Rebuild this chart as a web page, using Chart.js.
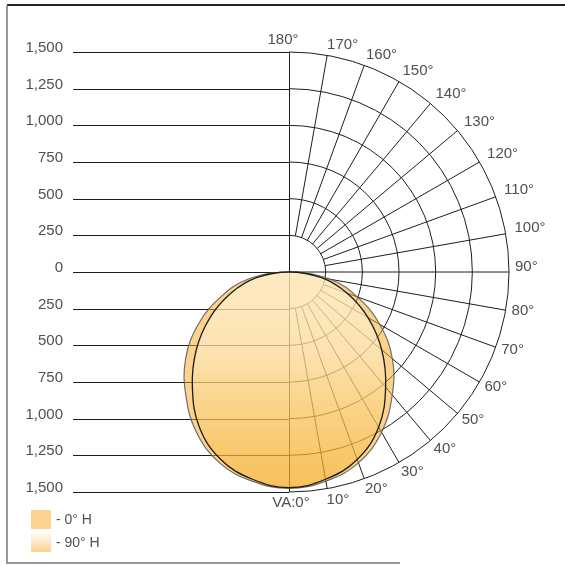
<!DOCTYPE html>
<html>
<head>
<meta charset="utf-8">
<script src="https://cdn.jsdelivr.net/npm/chart.js@4.4.1/dist/chart.umd.min.js"></script>
<style>
    html, body { margin: 0; padding: 0; background: #fff; }
    #wrap { width: 565px; height: 565px; position: relative; }
</style>
</head>
<body>
<div id="wrap"><canvas id="polarChart"></canvas></div>
<script>
// Vertical angles (0 = down, 180 = up), in degrees
const ANGLES = [0, 10, 20, 30, 40, 50, 60, 70, 80, 90, 100, 110, 120, 130, 140, 150, 160, 170, 180];
// Luminous intensity (cd)
const INTENSITY_0H = [1475, 1448, 1385, 1262, 1095, 920, 715, 495, 285, 0, 0, 0, 0, 0, 0, 0, 0, 0, 0];
const INTENSITY_90H = [1470, 1435, 1360, 1222, 1025, 825, 622, 420, 225, 0, 0, 0, 0, 0, 0, 0, 0, 0, 0];
const RINGS = [250, 500, 750, 1000, 1250, 1500];
const SERIES_LABELS = ["- 0° H", "- 90° H"];
const R_MAX = 1500;

const FONT = "'Liberation Sans', Arial, sans-serif";
const TEXT_COLOR = "#505050";

// polar (angle, intensity) -> x/y values; right half down to 0°, then the
// mirrored left half back up to the origin (the path is closed as a loop)
function toPoints(values) {
    const right = [];
    const left = [];
    ANGLES.forEach((a, i) => {
        const v = values[i];
        if (v <= 0) return;
        const t = a * Math.PI / 180;
        right.unshift({ x: v * Math.sin(t), y: -v * Math.cos(t) });
        if (a > 0) left.push({ x: -v * Math.sin(t), y: -v * Math.cos(t) });
    });
    return [{ x: 0, y: 0 }, ...right, ...left];
}

function innerGradient(chart) {
    const { ctx, scales, chartArea } = chart;
    if (!chartArea || !scales.y) return "rgba(255, 230, 180, 0.5)";
    const y0 = scales.y.getPixelForValue(0);
    const y1 = scales.y.getPixelForValue(-R_MAX);
    if (!isFinite(y0) || !isFinite(y1)) return "rgba(255, 230, 180, 0.5)";
    const g = ctx.createLinearGradient(0, y0, 0, y1);
    g.addColorStop(0, "rgba(255, 250, 228, 0.6)");
    g.addColorStop(0.35, "rgba(255, 243, 214, 0.5)");
    g.addColorStop(1, "rgba(243, 165, 10, 0.42)");
    return g;
}

// treat every curve as a closed loop so the spline is smooth all round
const closedCurves = {
    id: "closedCurves",
    afterDatasetUpdate(chart, args) {
        const line = args.meta.dataset;
        if (!line) return;
        line._loop = true;
        line._fullLoop = true;
        line._pointsUpdated = false;
    }
};

// grid of the half polar diagram + horizontal value lines on the left
const polarGrid = {
    id: "polarGrid",
    beforeDatasetsDraw(chart) {
        const { ctx, chartArea, scales } = chart;
        const cx = scales.x.getPixelForValue(0);
        const cy = scales.y.getPixelForValue(0);
        const px = v => scales.x.getPixelForValue(v) - cx;
        ctx.save();
        ctx.strokeStyle = "#1e1e1e";
        ctx.lineWidth = 1;

        // left-hand value lines
        scales.y.ticks.forEach(t => {
            const y = Math.round(scales.y.getPixelForValue(t.value)) + 0.5;
            ctx.beginPath();
            ctx.moveTo(chartArea.left + 4, y);
            ctx.lineTo(cx, y);
            ctx.stroke();
        });

        // rings
        RINGS.forEach(r => {
            ctx.beginPath();
            ctx.arc(cx, cy, px(r), -Math.PI / 2, Math.PI / 2);
            ctx.stroke();
        });

        // radial lines
        const r0 = px(RINGS[0]);
        const r1 = px(R_MAX);
        ANGLES.forEach(a => {
            if (a === 0 || a === 180) return;
            const t = a * Math.PI / 180;
            const start = a === 90 ? 0 : r0;
            ctx.beginPath();
            ctx.moveTo(cx + start * Math.sin(t), cy + start * Math.cos(t));
            ctx.lineTo(cx + r1 * Math.sin(t), cy + r1 * Math.cos(t));
            ctx.stroke();
        });

        // vertical axis
        ctx.beginPath();
        ctx.moveTo(Math.round(cx) + 0.5, scales.y.getPixelForValue(R_MAX));
        ctx.lineTo(Math.round(cx) + 0.5, scales.y.getPixelForValue(-R_MAX));
        ctx.stroke();
        ctx.restore();
    },
    afterDraw(chart) {
        const { ctx, scales } = chart;
        const cx = scales.x.getPixelForValue(0);
        const cy = scales.y.getPixelForValue(0);
        const r1 = scales.x.getPixelForValue(R_MAX) - cx;
        ctx.save();
        ctx.fillStyle = TEXT_COLOR;
        ctx.font = "15px " + FONT;
        ctx.textBaseline = "middle";
        ANGLES.forEach(a => {
            const t = a * Math.PI / 180;
            const ex = cx + r1 * Math.sin(t);
            const ey = cy + r1 * Math.cos(t);
            if (a === 0) {
                ctx.textAlign = "center";
                ctx.fillText("VA:0°", ex + 2, ey + 11);
                return;
            }
            if (a === 180) {
                ctx.textAlign = "center";
                ctx.fillText("180°", ex - 6, ey - 12);
                return;
            }
            const c = Math.cos(t);
            const dx = (a > 90 ? 11 : 8) * Math.sin(t) - 2;
            const dy = a < 90 ? 12 * c - 1 : -5 + 6 * c;
            ctx.textAlign = "left";
            ctx.fillText(a + "°", ex + dx, ey + dy);
        });

        // legend
        const sw = [
            { y: 510, fill: "rgb(251, 211, 142)" },
            { y: 533, fill: null }
        ];
        sw.forEach((s, i) => {
            if (s.fill) {
                ctx.fillStyle = s.fill;
            } else {
                const g = ctx.createLinearGradient(0, s.y, 0, s.y + 19);
                g.addColorStop(0, "rgb(255, 252, 244)");
                g.addColorStop(1, "rgb(250, 210, 140)");
                ctx.fillStyle = g;
            }
            ctx.fillRect(31, s.y, 20, 19);
            ctx.fillStyle = TEXT_COLOR;
            ctx.font = "14px " + FONT;
            ctx.textAlign = "left";
            ctx.fillText(SERIES_LABELS[i], 56, s.y + 10);
        });

        // frame
        ctx.strokeStyle = "#222";
        ctx.lineWidth = 2;
        ctx.beginPath();
        ctx.moveTo(7, 5);
        ctx.lineTo(565, 5);
        ctx.stroke();
        ctx.strokeStyle = "#777";
        ctx.lineWidth = 1.5;
        ctx.beginPath();
        ctx.moveTo(7, 5);
        ctx.lineTo(7, 563);
        ctx.lineTo(400, 563);
        ctx.stroke();
        ctx.restore();
    }
};

const ctxPolar = document.getElementById("polarChart").getContext("2d");
const polarChart = new Chart(ctxPolar, {
    type: "scatter",
    data: {
        datasets: [
            {
                label: SERIES_LABELS[1],
                data: toPoints(INTENSITY_90H),
                showLine: true,
                fill: "shape",
                tension: 0.4,
                pointRadius: 0,
                borderColor: "#1c1c1c",
                borderWidth: 1.3,
                backgroundColor: ctx => innerGradient(ctx.chart),
                order: 0
            },
            {
                label: SERIES_LABELS[0],
                data: toPoints(INTENSITY_0H),
                showLine: true,
                fill: "shape",
                tension: 0.4,
                pointRadius: 0,
                borderColor: "rgba(95, 95, 95, 0.9)",
                borderWidth: 1.2,
                backgroundColor: "rgba(247, 167, 29, 0.5)",
                order: 1
            }
        ]
    },
    options: {
        responsive: true,
        maintainAspectRatio: false,
        animation: false,
        events: [],
        layout: { padding: { left: 0, right: 56, top: 52, bottom: 73 } },
        plugins: {
            legend: { display: false },
            tooltip: { enabled: false }
        },
        scales: {
            x: { type: "linear", display: false, min: -R_MAX, max: R_MAX },
            y: {
                type: "linear",
                min: -R_MAX,
                max: R_MAX,
                afterFit(scale) { scale.width = 69; },
                border: { display: false },
                grid: { display: false, drawTicks: false },
                ticks: {
                    stepSize: 250,
                    padding: 6,
                    labelOffset: -4,
                    color: TEXT_COLOR,
                    font: { family: FONT, size: 15 },
                    callback: v => Math.abs(v).toLocaleString("en-US")
                }
            }
        }
    },
    plugins: [closedCurves, polarGrid]
});
</script>
</body>
</html>
